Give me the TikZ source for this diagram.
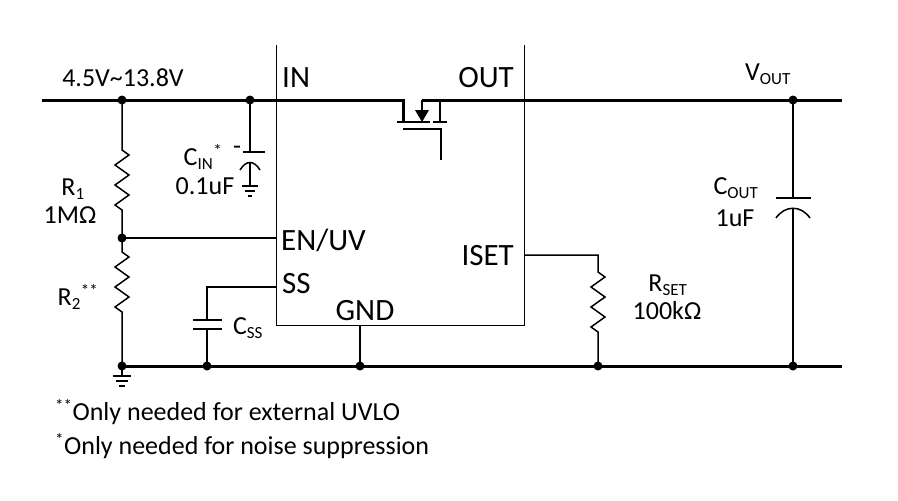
\documentclass[tikz,border=0pt]{standalone}
\usepackage{fontspec}
\setmainfont{Carlito}
\begin{document}
\begin{tikzpicture}[x=1pt,y=-1pt,
 thick rail/.style={line width=3pt},
 wire/.style={line width=1.5pt},
 dot/.style={circle,fill,inner sep=0pt,minimum size=9pt},
 pin/.style={font=\fontsize{31}{33}\selectfont,inner sep=0pt},
 lbl/.style={font=\fontsize{26}{28}\selectfont,inner sep=0pt}]
\newcommand{\sbs}[1]{\textsubscript{\fontsize{17}{17}\selectfont #1}}
\newcommand{\sps}[1]{\textsuperscript{\fontsize{17}{17}\selectfont #1}}
\useasboundingbox (0,0) rectangle (898,501);
% box
\draw[line width=1pt] (276,45) -- (276,325) -- (524,325) -- (524,45);
\node[pin,anchor=west] (in) at (282,78) {IN};
\node[pin,anchor=east] (out) at (514,78) {OUT};
\node[pin,anchor=west] (en) at (281,240) {EN/UV};
\node[pin,anchor=west] (ss) at (282,284) {SS};
\node[pin] (gnd) at (365,311) {GND};
\node[pin,anchor=east] (iset) at (514,256) {ISET};
\node[lbl] (vin) at (123,78) {4.5V\textasciitilde13.8V};
\node[lbl] (vout) at (768,74) {V\sbs{OUT}};
% coordinates
\coordinate (a) at (122,100); \coordinate (b) at (250,100);
\coordinate (c) at (122,238); \coordinate (d) at (122,366);
\coordinate (e) at (207,366); \coordinate (f) at (360,366);
\coordinate (g) at (598,366); \coordinate (h) at (793,366);
\coordinate (k) at (793,100);
% rails
\draw[thick rail] (42,100) -- (403,100) -- (403,122);
\draw[thick rail] (422,100) -- (842,100);
\draw[thick rail] (122,366) -- (842,366);
% mosfet
\draw[line width=2.5pt] (397,122) -- (415,122);
\draw[line width=2.5pt] (413,122) -- (430,122);
\draw[line width=2.5pt] (433,122) -- (447,122);
\draw[line width=2.5pt] (440,100) -- (440,122);
\draw[line width=2.5pt] (422,100) -- (422,112);
\fill (415,110) -- (429,110) -- (422,122) -- cycle;
\draw[line width=2.5pt] (403,129) -- (441,129) -- (441,160);
% R1, R2
\draw[wire] (a) -- (122,150) -- (129,155) -- (115,165) -- (129,175) -- (115,185) -- (129,195) -- (115,205) -- (122,210) -- (c);
\draw[wire] (c) -- (122,252) -- (129,257) -- (115,267) -- (129,277) -- (115,287) -- (129,297) -- (115,307) -- (122,312) -- (d);
\draw[wire] (c) -- (276,238);
\node[lbl] at (73,189) {R\sbs{1}};
\node[lbl] at (70,215) {1MΩ};
\node[lbl] at (78,297) {R\sbs{2}\sps{**}};
% ground at d
\draw[wire] (d) -- (122,376);
\draw[wire] (113,376) -- (131,376) (116,381) -- (128,381) (119,386) -- (125,386);
% CIN
\draw[wire] (b) -- (250,152);
\draw[wire] (243,152) -- (265,152);
\draw[wire] (240,170) .. controls (246,160) and (254,160) .. (260,170);
\draw[wire] (250,162) -- (250,186);
\draw[wire] (242,186) -- (258,186) (245,191) -- (255,191) (248,196) -- (252,196);
\node[lbl] at (237,150) {-};
\node[lbl] at (203,157) {C\sbs{IN}\sps{*}};
\node[lbl] at (205,186) {0.1uF};
% CSS
\draw[wire] (276,287) -- (207,287) -- (207,320);
\draw[line width=2.5pt] (193,320) -- (222,320) (193,329) -- (222,329);
\draw[wire] (207,329) -- (e);
\node[lbl] at (248,328) {C\sbs{SS}};
% GND
\draw[wire] (360,325) -- (f);
% RSET
\draw[wire] (524,255) -- (598,255) -- (598,272) -- (605,277) -- (591,287) -- (605,297) -- (591,307) -- (605,317) -- (591,327) -- (598,332) -- (g);
\node[lbl] at (668,285) {R\sbs{SET}};
\node[lbl] at (667,311) {100kΩ};
% COUT
\draw[wire] (k) -- (793,198);
\draw[wire] (776,198) -- (811,198);
\draw[wire] (776,218) .. controls (785,205) and (801,205) .. (810,218);
\draw[wire] (793,208) -- (h);
\node[lbl] at (736,188) {C\sbs{OUT}};
\node[lbl] at (735,218) {1uF};
% dots
\foreach \p in {a,b,c,d,e,f,g,h,k} \node[dot] at (\p) {};
% notes
\node[lbl,anchor=west] at (55,412) {\sps{**}Only needed for external UVLO};
\node[lbl,anchor=west] at (55,446) {\sps{*}Only needed for noise suppression};
\end{tikzpicture}
\end{document}
